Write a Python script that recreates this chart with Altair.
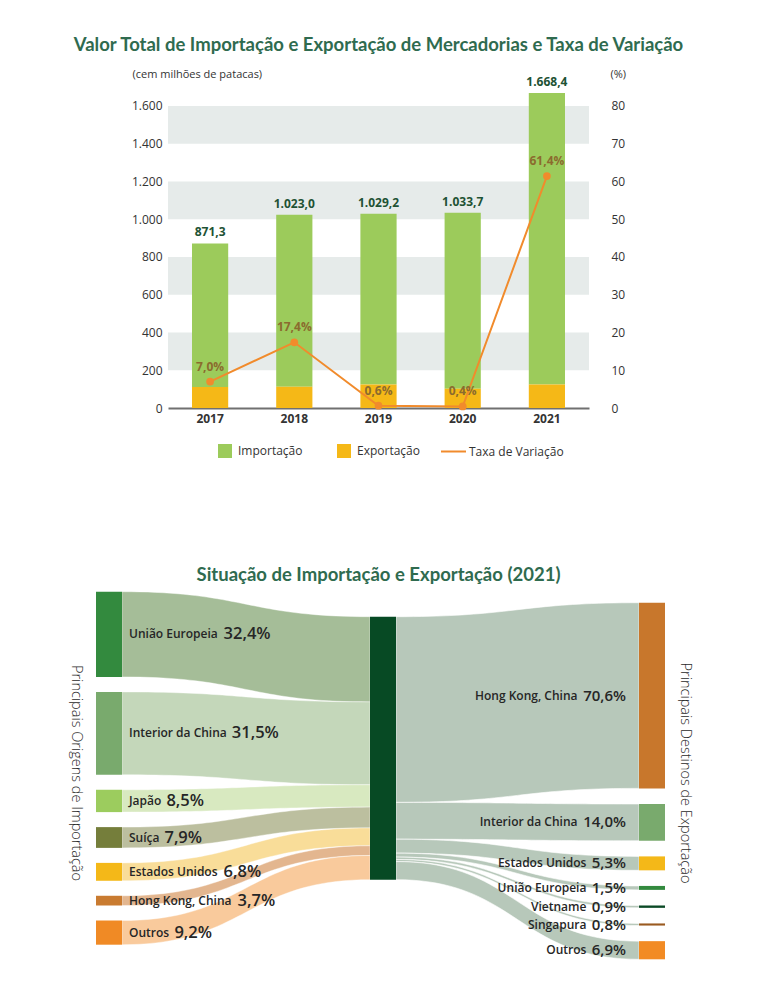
import altair as alt
import pandas as pd
import numpy as np

# ---------------- data ----------------
anos = ["2017", "2018", "2019", "2020", "2021"]
total = [871.3, 1023.0, 1029.2, 1033.7, 1668.4]
exportacao = [111.0, 112.0, 124.0, 102.0, 125.0]
importacao = [round(t - e, 1) for t, e in zip(total, exportacao)]
taxa = [7.0, 17.4, 0.6, 0.4, 61.4]

faixa_ini = [200, 600, 1000, 1400]
faixa_fim = [400, 800, 1200, 1600]

orig_nomes = ["União Europeia", "Interior da China", "Japão", "Suíça",
              "Estados Unidos", "Hong Kong, China", "Outros"]
orig_pct = [32.4, 31.5, 8.5, 7.9, 6.8, 3.7, 9.2]
dest_nomes = ["Hong Kong, China", "Interior da China", "Estados Unidos",
              "União Europeia", "Vietname", "Singapura", "Outros"]
dest_pct = [70.6, 14.0, 5.3, 1.5, 0.9, 0.8, 6.9]

# ---------------- styles ----------------
FONT = "Open Sans"
TFONT = "Lato"
TFS = 18.5
VERDE_T = "#2f6b4f"
C_IMP, C_EXP, C_LAR = "#9ccb5b", "#f5b817", "#f18b2c"

orig_node_cor = ["#338a3e", "#79aa6d", "#9ccc5e", "#757e3b", "#f4b818", "#c97b30", "#f08a25"]
orig_link_cor = ["#a5bd98", "#c4d7ba", "#d8e9c0", "#bcbf9f", "#f9dd99", "#e3b68f", "#f9ca9c"]
dest_node_cor = ["#c8772c", "#79aa6d", "#f4b818", "#338a3e", "#0b4a26", "#9a5a20", "#f28b24"]
MID_COR = "#074a24"
DEST_LINK_COR = "#b7c8ba"

# sankey layout constants (pixel units)
PX = 2.63
L_X0, L_X1, L_TOP, L_GAP = 96, 122, 591.7, 15.0
M_X0, M_X1, M_TOP = 370, 396, 616.7
R_X0, R_X1, R_TOP, R_GAP = 639, 665, 602.7, 15.6


def fmt_pt(v, dec=1):
    s = f"{v:,.{dec}f}"
    return s.replace(",", "#").replace(".", ",").replace("#", ".")


# approximate Open Sans advance widths (em)
_W = {' ': .26, ',': .243, '.': .266, '%': .83, '(': .296, ')': .296}
_W.update({d: .572 for d in "0123456789"})
_W.update(dict(zip("abcdefghijklmnopqrstuvwxyz",
                   [.556, .613, .476, .613, .561, .339, .548, .614, .253, .253, .525, .253, .93,
                    .614, .604, .613, .613, .408, .477, .353, .614, .501, .778, .524, .502, .477])))
_W.update(dict(zip("ABCDEFGHIJKLMNOPQRSTUVWXYZ",
                   [.633, .648, .631, .729, .547, .502, .726, .738, .279, .267, .595, .501, .903,
                    .773, .781, .586, .781, .601, .541, .543, .733, .606, .928, .595, .57, .561])))
_ACC = {"ã": "a", "á": "a", "ç": "c", "é": "e", "í": "i", "õ": "o", "ó": "o", "ú": "u", "ô": "o"}


def tw(s, size, bold=1.04):
    return sum(_W.get(_ACC.get(c, c), .55) for c in s) * size * bold


# ---------------- top chart ----------------
W, H = 421, 321
df_bar = pd.DataFrame({
    "ano": anos * 2,
    "serie": ["Importação"] * 5 + ["Exportação"] * 5,
    "valor": importacao + exportacao,
    "ordem": [1] * 5 + [0] * 5,
})
df_tot = pd.DataFrame({"ano": anos, "total": total, "rot": [fmt_pt(v) for v in total]})
df_taxa = pd.DataFrame({"ano": anos, "taxa": taxa, "rot": [fmt_pt(v) + "%" for v in taxa],
                        "serie": ["Taxa de Variação"] * 5})
df_faixa = pd.DataFrame({"a": faixa_ini, "b": faixa_fim})

x_enc = alt.X("ano:N", scale=alt.Scale(paddingInner=0.57, paddingOuter=0.285),
              axis=alt.Axis(title=None, labelFont=FONT, labelFontSize=12, labelFontWeight="bold",
                            labelColor="#333", labelPadding=5, ticks=False, domainColor="#707070",
                            domainWidth=2, labelAngle=0))
yl_scale = alt.Scale(domain=[0, 1700], nice=False, zero=True)
yl_axis = alt.Axis(values=list(range(0, 1601, 200)),
                   labelExpr="replace(format(datum.value, ','), ',', '.')",
                   grid=False, ticks=False, domain=False, labelFont=FONT, labelFontSize=12,
                   labelColor="#333", labelPadding=6, title="(cem milhões de patacas)",
                   titleAngle=0, titleAlign="left", titleBaseline="middle", titleX=-36, titleY=-13,
                   titleFont=FONT, titleFontSize=11, titleFontWeight="normal", titleColor="#333")
yr_scale = alt.Scale(domain=[0, 85], nice=False, zero=True)
yr_axis = alt.Axis(orient="right", values=list(range(0, 81, 10)), grid=False, ticks=False,
                   domain=False, labelFont=FONT, labelFontSize=12, labelColor="#333",
                   labelPadding=22, title="(%)", titleAngle=0, titleAlign="left",
                   titleBaseline="middle", titleX=21, titleY=-13, titleFont=FONT,
                   titleFontSize=11, titleFontWeight="normal", titleColor="#333")

faixas = alt.Chart(df_faixa).mark_rect(color="#e6ebea").encode(
    y=alt.Y("a:Q", scale=yl_scale, axis=yl_axis), y2="b:Q")
barras = alt.Chart(df_bar).mark_bar().encode(
    x=x_enc,
    y=alt.Y("valor:Q", stack="zero", scale=yl_scale, axis=yl_axis),
    color=alt.Color("serie:N", scale=alt.Scale(domain=["Importação", "Exportação"],
                                                range=[C_IMP, C_EXP]),
                    legend=alt.Legend(orient="none", legendX=50, legendY=357, direction="horizontal",
                                      title=None, symbolType="square", symbolSize=196,
                                      symbolStrokeWidth=0, labelFont=FONT, labelFontSize=12,
                                      labelColor="#333", columnPadding=34, labelOffset=6)),
    order=alt.Order("ordem:Q"))
rot_tot = alt.Chart(df_tot).mark_text(dy=-11, font=FONT, fontSize=12, fontWeight="bold",
                                      color="#1e5234").encode(
    x=x_enc, y=alt.Y("total:Q", scale=yl_scale, axis=yl_axis), text="rot:N")

linha = alt.Chart(df_taxa).mark_line(strokeWidth=2).encode(
    x=x_enc, y=alt.Y("taxa:Q", scale=yr_scale, axis=yr_axis),
    stroke=alt.Stroke("serie:N", scale=alt.Scale(domain=["Taxa de Variação"], range=[C_LAR]),
                      legend=alt.Legend(orient="none", legendX=272, legendY=351, title=None,
                                        symbolType="stroke", symbolSize=625, symbolStrokeWidth=2,
                                        labelFont=FONT, labelFontSize=12, labelColor="#333",
                                        labelOffset=2)))
pontos = alt.Chart(df_taxa).mark_point(filled=True, size=60, color=C_LAR, opacity=1).encode(
    x=x_enc, y=alt.Y("taxa:Q", scale=yr_scale, axis=yr_axis))
rot_taxa = alt.Chart(df_taxa).mark_text(dy=-15, font=FONT, fontSize=12, fontWeight="bold",
                                        color="#8b6b2e").encode(
    x=x_enc, y=alt.Y("taxa:Q", scale=yr_scale, axis=yr_axis), text="rot:N")

topo = alt.layer(alt.layer(faixas, barras, rot_tot),
                 alt.layer(linha, pontos, rot_taxa)).resolve_scale(y="independent").properties(
    width=W, height=H,
    title=alt.TitleParams(text="Valor Total de Importação e Exportação de Mercadorias e Taxa de Variação",
                          font=TFONT, fontSize=TFS, fontWeight="bold", color=VERDE_T,
                          anchor="middle", frame="group", offset=-1, baseline="alphabetic"))

# ---------------- sankey ----------------
SW, SH = 421, 370
xs = alt.Scale(domain=[168, 168 + SW], nice=False, zero=False)
ys = alt.Scale(domain=[590, 590 + SH], nice=False, zero=False, reverse=True)


def stack(pcts, top, gap):
    out, y = [], top
    for p in pcts:
        out.append((y, y + p * PX))
        y += p * PX + gap
    return out


def bez(x0, x1, n=41):
    t = np.linspace(0, 1, n)
    xm = (x0 + x1) / 2
    xx = x0 * (1 - t) ** 3 + 3 * xm * (1 - t) ** 2 * t + 3 * xm * (1 - t) * t ** 2 + x1 * t ** 3
    s = 3 * t ** 2 - 2 * t ** 3
    return xx, s


orig_pos = stack(orig_pct, L_TOP, L_GAP)
dest_pos = stack(dest_pct, R_TOP, R_GAP)
mid_in = stack(orig_pct, M_TOP, 0)
mid_out = stack(dest_pct, M_TOP, 0)

links = []
for i, ((a0, a1), (b0, b1)) in enumerate(zip(orig_pos, mid_in)):
    xx, s = bez(L_X1, M_X0)
    for xv, sv in zip(xx, s):
        links.append({"link": f"o{i}", "x": xv, "yt": a0 + (b0 - a0) * sv,
                      "yb": a1 + (b1 - a1) * sv, "cor": orig_link_cor[i], "lado": "o"})
for i, ((a0, a1), (b0, b1)) in enumerate(zip(mid_out, dest_pos)):
    xx, s = bez(M_X1, R_X0)
    for xv, sv in zip(xx, s):
        links.append({"link": f"d{i}", "x": xv, "yt": a0 + (b0 - a0) * sv,
                      "yb": a1 + (b1 - a1) * sv, "cor": DEST_LINK_COR, "lado": "d"})
df_links = pd.DataFrame(links)

nodes = []
for i, (a0, a1) in enumerate(orig_pos):
    nodes.append({"x0": L_X0, "x1": L_X1, "y0": a0, "y1": a1, "cor": orig_node_cor[i]})
nodes.append({"x0": M_X0, "x1": M_X1, "y0": M_TOP, "y1": M_TOP + 100 * PX, "cor": MID_COR})
for i, (a0, a1) in enumerate(dest_pos):
    nodes.append({"x0": R_X0, "x1": R_X1, "y0": a0, "y1": a1, "cor": dest_node_cor[i]})
df_nodes = pd.DataFrame(nodes)

NAME_FS, PCT_FS_L, PCT_FS_R = 12, 16.5, 15
LBL_L, LBL_R = 129, 626
lab_l_nome = pd.DataFrame({"x": [LBL_L] * 7, "y": [(a + b) / 2 for a, b in orig_pos],
                           "t": orig_nomes})
lab_l_pct = pd.DataFrame({"x": [LBL_L + tw(n, NAME_FS) + 5 for n in orig_nomes],
                          "y": [(a + b) / 2 for a, b in orig_pos],
                          "t": [fmt_pt(p) + "%" for p in orig_pct]})
dest_pct_txt = [fmt_pt(p) + "%" for p in dest_pct]
lab_r_pct = pd.DataFrame({"x": [LBL_R] * 7, "y": [(a + b) / 2 for a, b in dest_pos],
                          "t": dest_pct_txt})
lab_r_nome = pd.DataFrame({"x": [LBL_R - tw(p, PCT_FS_R) - 5 for p in dest_pct_txt],
                           "y": [(a + b) / 2 for a, b in dest_pos], "t": dest_nomes})
lado_tit = pd.DataFrame({"x": [76, 685], "y": [773, 773],
                         "t": ["Principais Origens de Importação",
                               "Principais Destinos de Exportação"]})

X0 = alt.X("x:Q", scale=xs, axis=None)
Y0 = alt.Y("y:Q", scale=ys, axis=None)

area_o = alt.Chart(df_links[df_links.lado == "o"]).mark_area(stroke="white", strokeWidth=0.4).encode(
    x=X0, y=alt.Y("yt:Q", scale=ys, axis=None, stack=None), y2="yb:Q",
    color=alt.Color("cor:N", scale=None), detail="link:N")
area_d = alt.Chart(df_links[df_links.lado == "d"]).mark_area(stroke="white", strokeWidth=0.6).encode(
    x=X0, y=alt.Y("yt:Q", scale=ys, axis=None, stack=None), y2="yb:Q",
    color=alt.Color("cor:N", scale=None), detail="link:N")
rects = alt.Chart(df_nodes).mark_rect().encode(
    x=alt.X("x0:Q", scale=xs, axis=None), x2="x1:Q",
    y=alt.Y("y0:Q", scale=ys, axis=None), y2="y1:Q",
    color=alt.Color("cor:N", scale=None))


def txt(df, size, align, angle=0, weight=600, color="#262626"):
    return alt.Chart(df).mark_text(align=align, baseline="middle", font=FONT, fontSize=size,
                                   fontWeight=weight, color=color, angle=angle).encode(
        x=X0, y=Y0, text="t:N")


sankey = alt.layer(
    area_o, area_d, rects,
    txt(lab_l_nome, NAME_FS, "left"), txt(lab_l_pct, PCT_FS_L, "left"),
    txt(lab_r_nome, NAME_FS, "right"), txt(lab_r_pct, PCT_FS_R, "right"),
    txt(lado_tit, 14.5, "center", angle=90, weight=300, color="#2a2a2a"),
).properties(
    width=SW, height=SH,
    title=alt.TitleParams(text="Situação de Importação e Exportação (2021)",
                          font=TFONT, fontSize=TFS, fontWeight="bold", color=VERDE_T,
                          anchor="middle", frame="group", offset=-9.5, baseline="alphabetic"))

chart = alt.vconcat(topo, sankey, spacing=182, bounds="flush").properties(
    padding={"left": 61, "top": 27, "right": 20, "bottom": 20}
).configure(font=FONT).configure_view(stroke=None)

chart.save("out.html", embed_options={"renderer": "svg", "actions": False})
